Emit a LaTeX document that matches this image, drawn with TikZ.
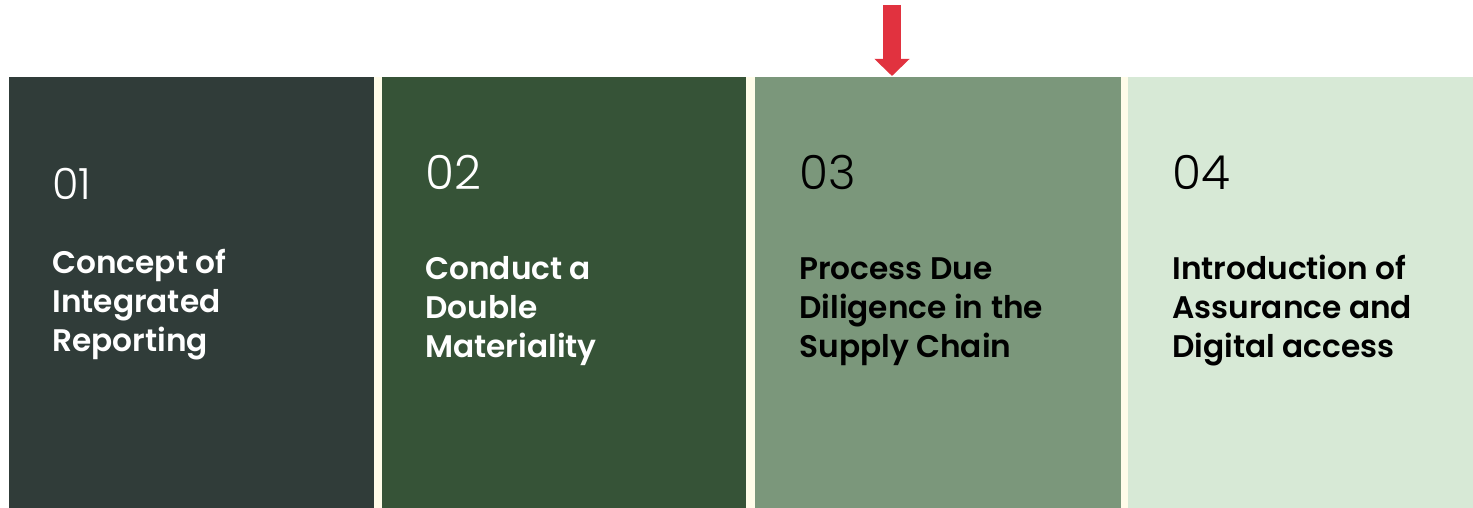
\documentclass[tikz,border=0pt]{standalone}
\usepackage{fontspec}
\setmainfont{Poppins}
\newfontfamily\numfont{Poppins Light}
\newfontfamily\headfont{Poppins SemiBold}
\usetikzlibrary{arrows.meta,positioning}
\definecolor{slate}{HTML}{303C39}
\definecolor{forest}{HTML}{365337}
\definecolor{sage}{HTML}{7B977B}
\definecolor{mint}{HTML}{D7E9D6}
\definecolor{cream}{HTML}{FFFCE9}
\definecolor{alert}{HTML}{E1323F}

\begin{document}
\begin{tikzpicture}[x=0.5pt,y=-0.5pt,
  panel/.style={anchor=north west,inner sep=0,minimum height=215.5pt},
  num/.style={anchor=base west,inner sep=0,font=\numfont\fontsize{23.5}{28}\selectfont},
  head/.style={anchor=base west,inner sep=0,align=left,font=\headfont\fontsize{15.6}{19.5}\selectfont}]
\useasboundingbox (0,0) rectangle (1473,508);
% strip behind the panels shows through the gaps
\fill[cream] (9,77) rectangle (1473,508);
\node[panel,fill=slate,minimum width=182.5pt] (p1) at (9,77) {};
\node[panel,fill=forest,minimum width=182pt] (p2) at (382,77) {};
\node[panel,fill=sage,minimum width=183pt] (p3) at (755,77) {};
\node[panel,fill=mint,minimum width=172.5pt] (p4) at (1128,77) {};
% numbers
\node[num,white,font=\numfont\fontsize{21.5}{26}\selectfont] (n1) at (52,199) {01};
\node[num,white] (n2) at (425,190) {02};
\node[num,black] (n3) at (799,190) {03};
\node[num,black] (n4) at (1172,190) {04};
% titles (base = last line)
\node[head,white] (t1) at (52,351) {Concept of\\Integrated\\Reporting};
\node[head,white] (t2) at (425,357) {Conduct a\\Double\\Materiality};
\node[head,black] (t3) at (799,357) {Process Due\\Diligence in the\\Supply Chain};
\node[head,black] (t4) at (1172,357) {Introduction of\\Assurance and\\Digital access};
% marker above the third step
\coordinate (top) at (892,5);
\coordinate (tip) at (892,76);
\draw[alert,line width=9pt,-{Triangle[width=17pt,length=8.5pt]}] (top) -- (tip);
\end{tikzpicture}
\end{document}
